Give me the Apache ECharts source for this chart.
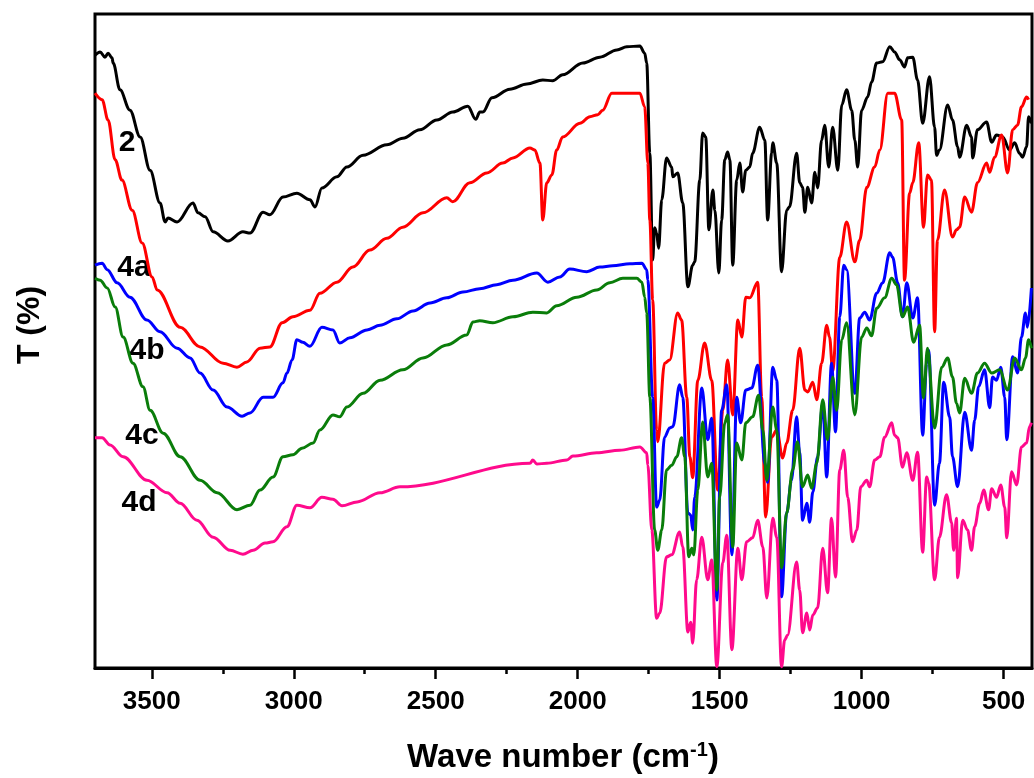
<!DOCTYPE html>
<html>
<head>
<meta charset="utf-8">
<title>FTIR spectra</title>
<script src="https://cdn.jsdelivr.net/npm/echarts@6.0.0/dist/echarts.min.js"></script>
<style>
html,body{margin:0;padding:0;background:#fff;}
#irChart{width:1034px;height:778px;}
</style>
</head>
<body>
<div id="irChart"></div>
<script>
// tick values of the wave number axis
var majorTicks = [3500, 3000, 2500, 2000, 1500, 1000, 500];
var minorTicks = [3250, 2750, 2250, 1750, 1250, 750];
var curveNames = ['2', '4a', '4b', '4c', '4d'];

// [wave number, T %]
var spec2 = [
[3700,93.7],[3682,94.2],[3665,93.4],[3654,94.0],[3640,93.3],[3636,92.5],[3612,88.4],[3577,85.3],[3541,81.2],[3506,76.1],[3471,71.1],[3453,68.2],[3443,68.8],[3411,68.2],[3355,71.1],[3337,69.6],[3312,69.0],[3284,66.7],[3232,65.3],[3179,66.7],[3154,66.5],[3108,69.7],[3084,69.3],[3038,72.0],[2989,72.6],[2943,71.6],[2925,70.5],[2901,73.4],[2848,75.1],[2813,76.6],[2756,78.4],[2672,80.0],[2616,81.0],[2556,82.3],[2496,83.8],[2440,85.0],[2387,85.9],[2359,83.9],[2345,85.0],[2334,85.0],[2302,87.2],[2239,88.5],[2179,89.3],[2123,89.9],[2088,89.8],[2053,90.7],[1982,92.5],[1922,93.4],[1862,94.5],[1827,95.0],[1781,95.1],[1764,94.0],[1757,92.5],[1746,78.7],[1736,62.4],[1729,67.3],[1722,66.5],[1715,64.2],[1704,71.6],[1687,78.0],[1669,76.6],[1665,75.1],[1648,75.7],[1630,71.1],[1612,58.3],[1595,61.6],[1588,62.1],[1570,74.6],[1560,81.8],[1549,81.2],[1538,67.0],[1524,73.1],[1517,70.0],[1503,60.4],[1493,68.5],[1482,77.7],[1472,78.9],[1464,77.7],[1454,61.6],[1440,74.6],[1429,77.2],[1419,72.8],[1408,76.1],[1394,76.6],[1384,78.7],[1359,82.7],[1341,80.7],[1331,68.5],[1317,78.7],[1313,80.3],[1299,77.2],[1282,60.6],[1264,70.0],[1254,70.5],[1229,78.7],[1218,74.2],[1208,73.5],[1200,69.7],[1190,73.5],[1176,71.1],[1165,75.8],[1155,73.4],[1141,80.7],[1130,83.0],[1116,76.6],[1102,82.7],[1084,76.1],[1070,86.1],[1053,88.4],[1035,85.3],[1024,80.7],[1014,76.6],[1000,85.3],[979,87.3],[965,89.6],[947,92.5],[926,92.7],[901,95.0],[884,94.2],[866,93.0],[849,91.9],[838,93.3],[820,93.4],[803,89.9],[785,83.3],[761,90.4],[743,82.7],[736,78.4],[726,79.2],[697,86.1],[680,83.8],[662,79.7],[655,78.1],[630,83.0],[613,81.2],[609,78.0],[592,82.3],[560,83.5],[542,80.4],[525,81.5],[503,81.2],[479,79.2],[461,80.3],[444,78.7],[433,78.1],[419,79.7],[412,84.3],[402,83.3]
];
var spec4a = [
[3700,87.9],[3675,86.9],[3654,83.8],[3629,77.7],[3605,74.6],[3569,70.0],[3534,65.0],[3499,59.8],[3481,57.8],[3400,52.1],[3330,49.1],[3249,46.6],[3200,46.0],[3165,46.8],[3119,48.9],[3084,49.1],[3041,52.8],[3003,53.7],[2943,54.7],[2908,57.3],[2848,59.0],[2792,61.3],[2732,63.9],[2672,65.7],[2616,67.4],[2545,69.6],[2461,71.9],[2440,71.3],[2380,74.2],[2320,75.7],[2264,77.2],[2228,78.0],[2168,79.5],[2151,79.2],[2133,77.2],[2123,68.5],[2109,74.2],[2091,75.4],[2074,79.2],[2053,81.2],[1992,83.3],[1957,84.3],[1929,84.6],[1912,85.3],[1880,87.9],[1781,87.9],[1764,85.8],[1753,77.2],[1746,68.5],[1736,56.3],[1722,36.4],[1718,34.6],[1694,46.6],[1676,47.1],[1648,54.3],[1634,53.2],[1616,41.4],[1605,32.3],[1595,29.1],[1577,44.0],[1553,49.7],[1528,44.0],[1507,27.2],[1489,39.4],[1472,47.1],[1454,38.7],[1436,53.2],[1422,50.6],[1408,56.7],[1394,56.6],[1366,59.0],[1352,41.4],[1338,23.1],[1317,35.3],[1299,36.4],[1278,32.1],[1264,34.4],[1243,39.4],[1218,48.9],[1200,42.5],[1190,42.2],[1172,43.7],[1158,41.0],[1141,46.6],[1123,52.4],[1113,50.6],[1102,45.4],[1077,62.8],[1053,68.2],[1024,62.1],[1007,65.4],[982,73.5],[954,76.6],[936,79.2],[908,87.9],[884,87.9],[859,83.8],[849,59.3],[831,72.6],[820,74.2],[799,80.3],[782,67.4],[768,75.4],[754,74.6],[743,51.4],[733,65.4],[708,73.1],[680,65.9],[666,67.0],[655,67.4],[637,72.0],[613,69.7],[592,74.2],[560,77.2],[549,75.8],[532,78.1],[507,81.5],[486,75.7],[468,82.3],[451,83.0],[437,85.8],[419,87.3],[412,86.9]
];
var spec4b = [
[3700,61.6],[3675,61.9],[3657,60.9],[3622,58.9],[3577,56.7],[3517,53.2],[3471,51.4],[3411,48.9],[3365,47.4],[3330,45.1],[3284,42.5],[3235,39.9],[3182,38.5],[3154,39.0],[3108,41.4],[3073,41.4],[3038,43.6],[3024,45.1],[3006,47.1],[2989,50.2],[2968,49.8],[2943,49.2],[2901,52.1],[2862,51.7],[2838,49.7],[2802,50.5],[2742,51.7],[2696,52.4],[2637,53.4],[2580,54.6],[2520,55.8],[2461,56.6],[2404,57.5],[2345,58.0],[2285,58.6],[2228,59.3],[2144,60.4],[2105,59.0],[2063,59.8],[2028,61.0],[1968,60.6],[1922,61.3],[1877,61.5],[1816,61.8],[1774,61.9],[1757,60.9],[1753,59.3],[1736,41.4],[1722,24.6],[1711,25.7],[1694,35.3],[1676,36.7],[1665,36.9],[1641,43.3],[1630,41.4],[1612,23.7],[1602,23.4],[1595,21.1],[1588,26.1],[1563,42.8],[1542,34.9],[1528,38.2],[1510,10.4],[1493,39.4],[1475,43.3],[1457,17.3],[1440,41.4],[1426,37.5],[1408,42.5],[1387,42.8],[1366,46.3],[1341,31.3],[1331,28.4],[1313,46.0],[1299,44.0],[1282,10.9],[1264,23.7],[1247,28.7],[1229,38.4],[1218,32.9],[1208,22.6],[1193,25.2],[1183,22.3],[1172,26.9],[1155,32.3],[1137,40.5],[1123,29.2],[1106,46.6],[1092,36.1],[1077,53.7],[1063,61.6],[1053,60.9],[1024,42.0],[1007,53.5],[989,54.4],[972,53.2],[947,57.3],[926,58.9],[901,63.5],[891,62.8],[873,58.9],[856,53.7],[841,58.9],[820,53.5],[803,56.6],[785,35.6],[771,46.6],[764,48.6],[743,24.9],[726,31.3],[711,43.7],[690,38.4],[680,32.3],[662,27.7],[637,39.1],[613,33.3],[602,37.9],[588,43.0],[567,45.6],[549,39.8],[539,44.5],[525,44.0],[510,46.0],[496,41.4],[489,34.9],[468,47.6],[451,45.1],[437,50.6],[423,54.3],[416,52.1],[402,58.1]
];
var spec4c = [
[3700,59.6],[3682,59.3],[3657,58.1],[3629,55.2],[3601,50.6],[3566,46.6],[3531,43.0],[3506,39.4],[3460,35.9],[3400,32.3],[3330,28.7],[3270,26.8],[3200,24.2],[3154,24.9],[3119,27.2],[3073,29.2],[3038,32.3],[3003,32.6],[2971,33.6],[2932,34.4],[2908,36.4],[2862,38.7],[2838,38.4],[2813,39.9],[2756,42.0],[2696,44.0],[2616,45.6],[2545,47.4],[2461,49.4],[2391,50.9],[2369,52.9],[2345,53.1],[2299,52.8],[2228,53.7],[2158,54.4],[2109,54.3],[2074,55.4],[2003,56.7],[1933,57.8],[1887,58.9],[1841,59.6],[1792,59.6],[1774,59.0],[1764,56.7],[1757,54.3],[1746,41.4],[1729,21.1],[1718,18.0],[1704,21.1],[1687,30.3],[1669,31.0],[1651,32.3],[1634,35.2],[1623,32.3],[1609,17.0],[1598,18.3],[1591,17.3],[1577,27.2],[1560,37.6],[1542,29.2],[1528,31.3],[1510,11.9],[1500,26.1],[1482,37.5],[1472,38.7],[1454,18.5],[1440,34.4],[1422,31.8],[1408,37.5],[1384,38.4],[1363,41.7],[1348,36.4],[1334,28.7],[1313,39.9],[1299,36.4],[1282,15.3],[1264,23.7],[1243,30.3],[1226,34.6],[1208,27.7],[1190,29.5],[1176,27.5],[1158,31.3],[1137,41.0],[1120,34.9],[1102,44.5],[1088,39.4],[1070,50.2],[1053,52.8],[1024,38.7],[1000,50.6],[982,52.0],[965,50.8],[947,55.0],[919,56.6],[894,59.6],[877,58.6],[856,53.7],[838,55.2],[817,49.8],[796,52.4],[782,41.3],[768,48.9],[743,36.7],[718,46.0],[697,47.4],[680,44.5],[666,40.5],[655,39.0],[637,44.3],[613,42.0],[592,45.1],[567,46.6],[542,45.1],[514,45.6],[486,42.5],[461,47.4],[437,45.6],[423,47.4],[412,50.2],[402,48.9]
];
var spec4d = [
[3700,35.2],[3675,35.2],[3647,34.1],[3601,32.3],[3517,28.7],[3446,26.8],[3400,25.2],[3341,22.6],[3284,20.0],[3224,18.0],[3179,17.4],[3143,18.0],[3101,19.1],[3073,19.3],[3024,21.6],[2989,24.9],[2943,24.5],[2901,26.1],[2862,25.8],[2830,24.8],[2777,25.4],[2696,26.8],[2626,27.7],[2168,31.3],[2158,31.8],[2144,31.2],[2109,31.3],[2038,31.8],[2017,32.4],[1933,32.9],[1852,33.3],[1781,33.8],[1757,32.9],[1753,31.0],[1739,21.1],[1722,7.6],[1711,8.4],[1687,17.0],[1669,17.3],[1641,20.8],[1630,18.5],[1612,5.5],[1602,7.0],[1595,3.8],[1581,13.5],[1563,20.0],[1542,13.5],[1528,16.5],[1510,0.2],[1489,16.1],[1475,20.3],[1457,2.8],[1436,18.3],[1422,13.5],[1405,19.3],[1384,19.9],[1366,22.6],[1348,18.5],[1334,10.7],[1313,22.9],[1299,20.0],[1282,0.2],[1271,4.3],[1261,5.0],[1229,16.2],[1218,11.9],[1208,5.4],[1193,8.4],[1183,5.8],[1172,8.1],[1155,9.2],[1137,18.3],[1120,11.5],[1106,22.9],[1092,13.9],[1077,30.3],[1063,33.3],[1049,26.1],[1032,19.3],[1017,21.1],[1003,27.7],[982,28.7],[972,27.7],[954,31.8],[936,32.3],[919,35.3],[894,37.5],[884,35.6],[873,35.2],[856,30.7],[841,32.9],[820,28.7],[803,33.0],[785,17.7],[771,29.2],[764,28.3],[743,13.5],[726,20.0],[701,26.5],[683,22.2],[676,18.0],[666,22.9],[662,13.8],[644,22.6],[627,21.1],[613,18.0],[602,21.6],[584,25.2],[570,27.2],[553,24.2],[542,27.4],[525,26.1],[510,28.0],[496,24.6],[489,19.9],[472,30.0],[454,28.0],[437,33.8],[419,34.4],[409,36.9],[402,37.5]
];

var FONT = '"Liberation Sans", Arial, sans-serif';
var spectra = [spec2, spec4a, spec4b, spec4c, spec4d];
var lineColors = ['#000000', '#ff0000', '#0000ff', '#0a7d0a', '#ff0a8c'];
// where the sample names sit (pixels)
var namePos = [[127, 143], [134, 268], [147, 351], [142, 436], [139, 503]];

var series = [];
for (var i = 0; i < spectra.length; i++) {
    series.push({
        name: curveNames[i],
        type: 'line',
        xAxisIndex: 0,
        data: spectra[i],
        showSymbol: false,
        smooth: 0.35,
        smoothMonotone: 'x',
        lineStyle: { color: lineColors[i], width: 3 },
        silent: true
    });
}

var graphics = [];
for (var j = 0; j < curveNames.length; j++) {
    graphics.push({
        type: 'text',
        x: namePos[j][0],
        y: namePos[j][1],
        style: {
            text: curveNames[j],
            fill: '#000',
            font: 'bold 30px ' + FONT,
            align: 'center',
            verticalAlign: 'middle'
        }
    });
}
// axis titles
graphics.push({
    type: 'text',
    x: 30,
    y: 325,
    rotation: Math.PI / 2,
    style: {
        text: 'T (%)',
        fill: '#000',
        font: 'bold 32px ' + FONT,
        align: 'center',
        verticalAlign: 'middle'
    }
});
graphics.push({
    type: 'text',
    x: 563,
    y: 758,
    style: {
        text: '{t|Wave number (cm}{s|-1}{t|)}',
        align: 'center',
        verticalAlign: 'middle',
        rich: {
            t: { fontSize: 33, fontWeight: 'bold', fontFamily: FONT, color: '#000', lineHeight: 36 },
            s: { fontSize: 20, fontWeight: 'bold', fontFamily: FONT, color: '#000', verticalAlign: 'top', lineHeight: 36, padding: [0, 0, 14, 0] }
        }
    }
});

var option = {
    animation: false,
    backgroundColor: '#fff',
    grid: {
        left: 95,
        right: 2,
        top: 14,
        bottom: 110,
        show: true,
        borderColor: '#000',
        borderWidth: 3,
        backgroundColor: 'transparent'
    },
    xAxis: [{
        type: 'value',
        inverse: true,
        min: 400,
        max: 3700,
        axisLine: { show: true, onZero: false, lineStyle: { color: '#000', width: 3 } },
        axisTick: { show: true, customValues: majorTicks, length: 11, lineStyle: { color: '#000', width: 2.5 } },
        axisLabel: {
            customValues: majorTicks,
            formatter: function (v) { return String(v); },
            color: '#000',
            fontSize: 26,
            fontWeight: 'bold',
            fontFamily: FONT,
            margin: 21
        },
        splitLine: { show: false }
    }, {
        type: 'value',
        inverse: true,
        min: 400,
        max: 3700,
        position: 'bottom',
        axisLine: { show: false },
        axisTick: { show: true, customValues: minorTicks, length: 6, lineStyle: { color: '#000', width: 2.5 } },
        axisLabel: { show: false },
        splitLine: { show: false }
    }],
    yAxis: {
        type: 'value',
        min: 0,
        max: 100,
        show: false,
        splitLine: { show: false }
    },
    graphic: graphics,
    series: series
};

var irChart = echarts.init(document.getElementById('irChart'));
irChart.setOption(option);
</script>
</body>
</html>
